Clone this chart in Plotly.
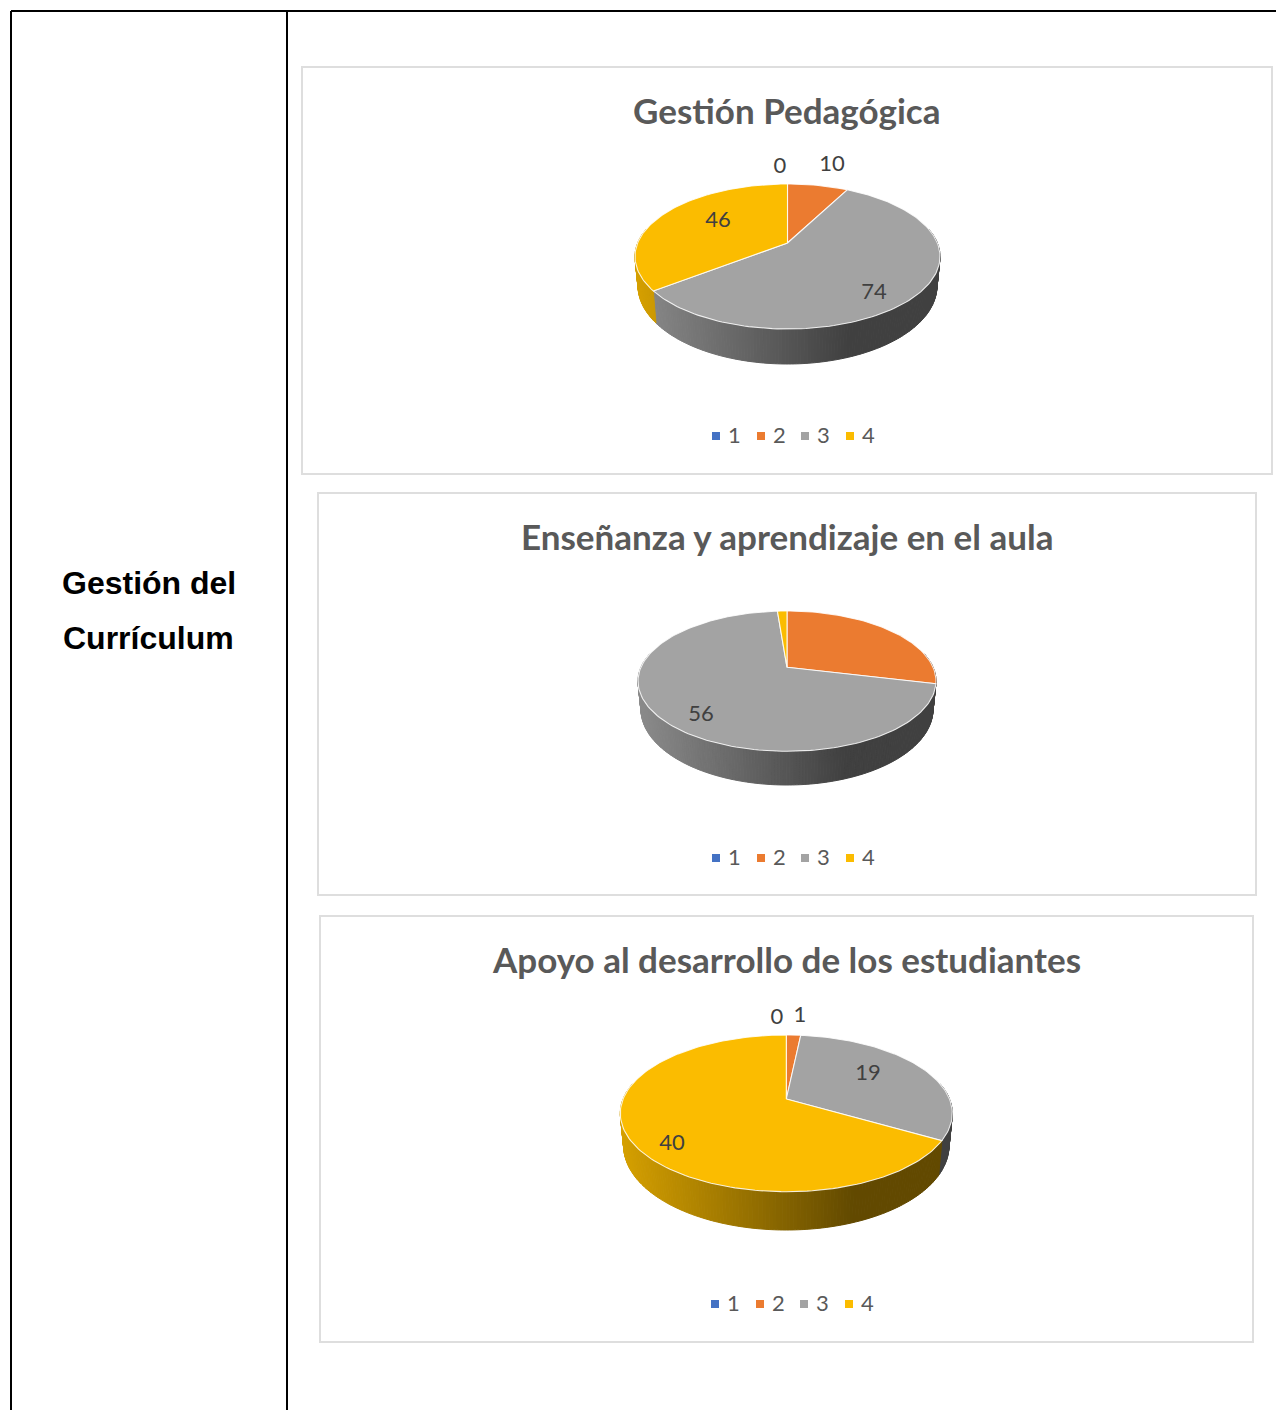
import math
import plotly.graph_objects as go

# ---- data ----
categories = ["1", "2", "3", "4"]
colors = ["#4472C4", "#EB7B30", "#A3A3A3", "#FBBC00"]
titles = ["Gestión Pedagógica", "Enseñanza y aprendizaje en el aula",
          "Apoyo al desarrollo de los estudiantes"]
gestion_pedagogica = [0, 10, 74, 46]
ensenanza_aula = [0, 23, 56, 1]
apoyo_estudiantes = [0, 1, 19, 40]
side_title = ["Gestión del", "Currículum"]

# ---- layout (page pixels) ----
W, H = 1276, 1410
boxes = [(302, 67, 1272, 474), (318, 493, 1256, 895), (320, 916, 1253, 1342)]
# cx, rim top, rim bottom, half width, apex y, wall bottom
pies = [(787.5, 184, 329, 152.5, 243, 364),
        (787, 611, 751.3, 149, 667.3, 785),
        (786.3, 1035, 1191.7, 166, 1099, 1230)]
title_y = [110, 536, 959]
legend_y = [436, 858, 1304]
legend_dx = [0, 0, -1]
legend_marker_x = [716, 761, 805, 850]
legend_text_gap = 18
label_pos = [
    [(780, 167), (832, 165), (874, 293), (718, 221)],
    [None, None, (701, 715), None],
    [(777, 1018), (800, 1016), (868, 1074), (672, 1144)],
]
series = [gestion_pedagogica, ensenanza_aula, apoyo_estudiantes]

LATO = "Lato"
fig = go.Figure()


def rgb(hexcol, f):
    r, g, b = (int(hexcol[i:i + 2], 16) for i in (1, 3, 5))
    return f"rgb({round(r * f)},{round(g * f)},{round(b * f)})"


def projector(pie):
    cx, top, bot, rx, apex, wall_bot = pie
    cy = (top + bot) / 2
    ry = (bot - top) / 2
    c = cy - apex
    k = c / ry
    a = rx * math.sqrt(1 - k * k)
    depth = wall_bot - bot

    def proj(deg):
        t = math.radians(deg)
        u, v = math.sin(t), math.cos(t)
        d = 1 + k * v
        return cx + a * u / d, cy - (ry * v + c) / d

    def lower(deg):
        x, y = proj(deg)
        v = math.cos(math.radians(deg))
        return cx + (x - cx) * 0.98, y + depth * (1 - k) / (1 + k * v)
    return proj, lower


def add_pie(values, pie):
    cx, top, bot, rx, apex, wall_bot = pie
    proj, lower = projector(pie)
    total = sum(values)
    left = cx - rx
    width = 2 * rx

    # side wall, in narrow shaded bands
    start = 0.0
    for value, color, name in zip(values, colors, categories):
        end = start + value / total * 360
        a0, a1 = max(start, 78.0), min(end, 282.0)
        if a1 > a0:
            n = max(1, math.ceil((a1 - a0) / 1.0))
            for i in range(n):
                b0 = a0 + (a1 - a0) * i / n
                b1 = a0 + (a1 - a0) * (i + 1) / n
                p0, p1 = proj(b0), proj(b1)
                q0, q1 = lower(b0), lower(b1)
                tx = ((p0[0] + p1[0]) / 2 - left) / width
                f = 0.85 - (0.85 - 0.39) * min(tx / 0.70, 1)
                col = rgb(color, f)
                fig.add_trace(go.Scatter(
                    x=[p0[0], p1[0], q1[0], q0[0], p0[0]],
                    y=[p0[1], p1[1], q1[1], q0[1], p0[1]],
                    mode="lines", fill="toself", fillcolor=col,
                    line=dict(color=col, width=1.0),
                    hoverinfo="skip", showlegend=False))
        start = end

    # top face
    start = 0.0
    for value, color, name in zip(values, colors, categories):
        end = start + value / total * 360
        if value > 0:
            n = max(2, math.ceil((end - start) / 1.5))
            pts = [proj(start + (end - start) * i / n) for i in range(n + 1)]
            xs = [cx] + [p[0] for p in pts] + [cx]
            ys = [apex] + [p[1] for p in pts] + [apex]
            fig.add_trace(go.Scatter(
                x=xs, y=ys, mode="lines", fill="toself", fillcolor=color,
                line=dict(color="rgba(255,255,255,0.85)", width=1.1),
                name=name, text=f"{name}: {value}", hoverinfo="text", showlegend=False))
        start = end


for values, pie in zip(series, pies):
    add_pie(values, pie)

# value labels
for values, positions in zip(series, label_pos):
    shown = [(p, v) for p, v in zip(positions, values) if p is not None]
    fig.add_trace(go.Scatter(
        x=[p[0] for p, _ in shown], y=[p[1] for p, _ in shown],
        text=[str(v) for _, v in shown], mode="text", textposition="middle center",
        textfont=dict(family=LATO, size=22, color="#404040"),
        hoverinfo="skip", showlegend=False))

# legends
for ly, dx in zip(legend_y, legend_dx):
    for mx, color, name in zip(legend_marker_x, colors, categories):
        fig.add_trace(go.Scatter(
            x=[mx + dx], y=[ly], mode="markers", name=name,
            marker=dict(symbol="square", size=8, color=color, line=dict(width=0)),
            hoverinfo="name", showlegend=False))
        fig.add_annotation(x=mx + dx + legend_text_gap, y=ly - 2, text=name, showarrow=False,
                           xref="x", yref="y", xanchor="center", yanchor="middle",
                           font=dict(family=LATO, size=22, color="#595959"))

# chart titles
for title, ty, box in zip(titles, title_y, boxes):
    fig.add_annotation(x=786.5, y=ty, text=f"<b>{title}</b>", showarrow=False,
                       xref="x", yref="y", xanchor="center", yanchor="middle",
                       font=dict(family=LATO, size=35, color="#595959"))

# side heading
for line, sy in zip(side_title, [583, 638]):
    fig.add_annotation(x=148.7, y=sy, text=f"<b>{line}</b>", showarrow=False,
                       xref="x", yref="y", xanchor="center", yanchor="middle",
                       font=dict(family="Liberation Sans", size=32, color="#000000"))

shapes = []
for x0, y0, x1, y1 in boxes:
    shapes.append(dict(type="rect", xref="x", yref="y", x0=x0, y0=y0, x1=x1, y1=y1,
                       line=dict(color="#DEDEDE", width=2), fillcolor="rgba(0,0,0,0)", layer="below"))
for x0, y0, x1, y1 in [(11, 11, W, 11), (11, 11, 11, H), (287, 11, 287, H)]:
    shapes.append(dict(type="line", xref="x", yref="y", x0=x0, y0=y0, x1=x1, y1=y1,
                       line=dict(color="#000000", width=2)))

fig.update_layout(
    width=W, height=H, margin=dict(l=0, r=0, t=0, b=0),
    paper_bgcolor="white", plot_bgcolor="white", shapes=shapes, showlegend=False,
    xaxis=dict(range=[0, W], visible=False, fixedrange=True),
    yaxis=dict(range=[H, 0], visible=False, fixedrange=True),
)
fig.write_html("out.html", config={"displayModeBar": False},
               post_script="document.body.style.margin='0';document.body.style.overflow='hidden';")
